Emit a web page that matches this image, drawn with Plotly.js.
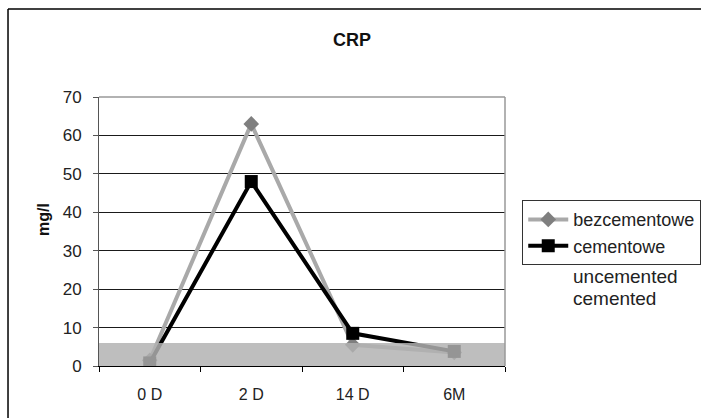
<!DOCTYPE html>
<html>
<head>
<meta charset="utf-8">
<script src="https://cdn.plot.ly/plotly-3.0.1.min.js"></script>
<style>
  html, body { margin: 0; padding: 0; background: #fff; }
  #chart { width: 701px; height: 418px; }
</style>
</head>
<body>
<div id="chart"></div>
<script>
// ---- data ----
const categories = ["0 D", "2 D", "14 D", "6M"];
const uncementedValues = [1.5, 63, 5.5, 3.5];   // bezcementowe
const cementedValues = [0.8, 48, 8.5, 3.8];     // cementowe
const seriesNames = ["bezcementowe", "cementowe"];
const extraLabels = ["uncemented", "cemented"];
const yTitle = "mg/l";
const normalRange = [0, 6];
const yTickValues = [0, 10, 20, 30, 40, 50, 60, 70];

const FONT = "Liberation Sans, Arial, Helvetica, sans-serif";

const traces = [
  {
    x: categories, y: uncementedValues, name: seriesNames[0],
    type: "scatter", mode: "lines+markers",
    line: { color: "#a9a9a9", width: 4 },
    marker: { symbol: "diamond", size: 12, color: "#7f7f7f" }
  },
  {
    x: categories, y: cementedValues, name: seriesNames[1],
    type: "scatter", mode: "lines+markers",
    line: { color: "#000000", width: 4 },
    marker: { symbol: "square", size: 13, color: "#000000" }
  }
];

const layout = {
  width: 701, height: 418,
  margin: { l: 99, r: 196, t: 97, b: 52, autoexpand: false },
  paper_bgcolor: "#ffffff", plot_bgcolor: "#ffffff",
  font: { family: FONT, color: "#222222", size: 16 },
  title: {
    text: "<b>CRP</b>", font: { family: FONT, size: 18, color: "#111111" },
    x: 0.502, xref: "container", xanchor: "center",
    y: 0.905, yref: "container", yanchor: "middle"
  },
  xaxis: {
    type: "category", categoryorder: "array", categoryarray: categories,
    range: [-0.5, 3.5],
    showgrid: false, zeroline: false,
    showline: true, linecolor: "#000000", linewidth: 1,
    ticks: "outside", tickson: "boundaries", ticklen: 5, tickcolor: "#000000",
    tickfont: { family: FONT, size: 16, color: "#222222" },
    ticklabelstandoff: 14
  },
  yaxis: {
    range: [0, 70], tickvals: yTickValues,
    showgrid: true, gridcolor: "#1a1a1a", gridwidth: 1,
    zeroline: false,
    showline: true, linecolor: "#555555", linewidth: 1,
    ticks: "outside", ticklen: 5, tickcolor: "#555555",
    tickfont: { family: FONT, size: 17, color: "#222222" },
    ticklabelstandoff: 8
  },
  legend: {
    xref: "container", yref: "container",
    x: 0.745, xanchor: "left", y: 0.521, yanchor: "top",
    bgcolor: "#ffffff", bordercolor: "#333333", borderwidth: 1,
    font: { family: FONT, size: 18, color: "#222222" },
    itemwidth: 40, tracegroupgap: 0
  },
  shapes: [
    // normal-range band drawn over the lines
    { type: "rect", xref: "paper", x0: 0, x1: 1, yref: "y", y0: normalRange[0], y1: normalRange[1],
      fillcolor: "rgba(178,178,178,0.84)", line: { width: 0 }, layer: "above" },
    // plot-area top and right border
    { type: "line", xref: "paper", yref: "paper", x0: 0, x1: 1, y0: 1, y1: 1,
      line: { color: "#999999", width: 1.5 }, layer: "above" },
    { type: "line", xref: "paper", yref: "paper", x0: 1, x1: 1, y0: 0, y1: 1,
      line: { color: "#999999", width: 1.5 }, layer: "above" },
    // chart frame (left and top edges)
    { type: "line", xref: "paper", yref: "paper", x0: -0.2241, x1: -0.2241, y0: -0.3, y1: 1.327,
      line: { color: "#000000", width: 1.5 }, layer: "above" },
    { type: "line", xref: "paper", yref: "paper", x0: -0.2241, x1: 1.6, y0: 1.327, y1: 1.327,
      line: { color: "#000000", width: 1.5 }, layer: "above" }
  ],
  annotations: [
    { text: "<b>" + yTitle + "</b>", xref: "paper", yref: "paper", x: -0.1355, y: 0.5465,
      xanchor: "center", yanchor: "middle", textangle: -90, showarrow: false,
      font: { family: FONT, size: 16, color: "#111111" } },
    { text: extraLabels[0], xref: "paper", yref: "paper", x: 1.163, y: 0.332,
      xanchor: "left", yanchor: "middle", showarrow: false,
      font: { family: FONT, size: 19, color: "#222222" } },
    { text: extraLabels[1], xref: "paper", yref: "paper", x: 1.163, y: 0.25,
      xanchor: "left", yanchor: "middle", showarrow: false,
      font: { family: FONT, size: 19, color: "#222222" } }
  ],
  showlegend: true
};

Plotly.newPlot("chart", traces, layout, { displayModeBar: false, staticPlot: true });
</script>
</body>
</html>
